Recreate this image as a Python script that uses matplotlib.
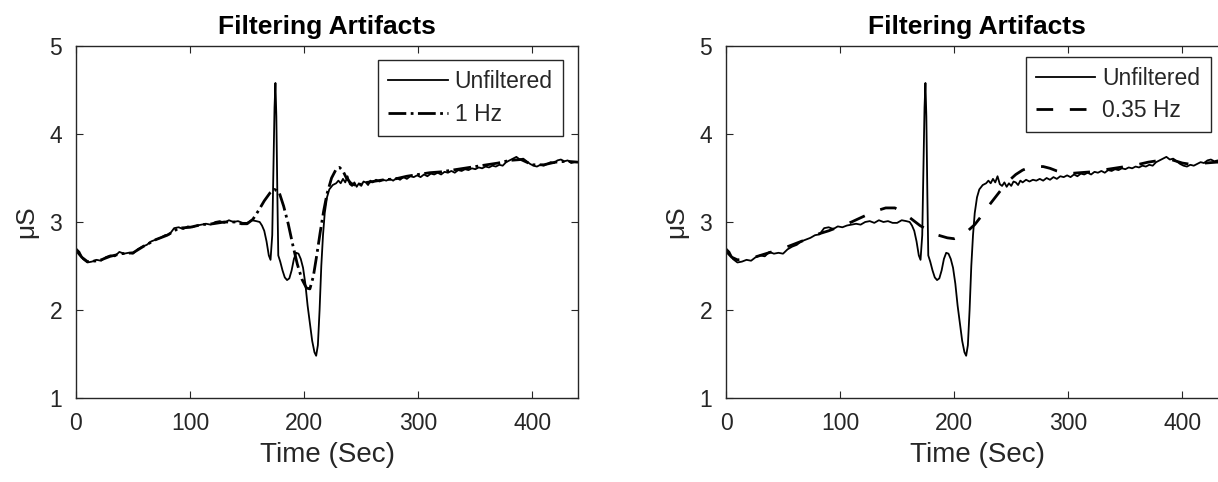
import matplotlib
matplotlib.use("Agg")
import matplotlib.pyplot as plt
import numpy as np

plt.rcParams['font.family'] = ['Liberation Sans', 'DejaVu Sans']

# raw skin conductance trace (same in both panels)
t_raw = [0, 3, 6, 10, 14, 18, 22, 26, 30, 34, 38, 42, 46, 50, 54, 58, 62, 66, 70, 74,
         78, 82, 86, 90, 94, 98, 102, 106, 110, 114, 118, 122, 126, 130, 134, 138, 142,
         146, 150, 154, 158, 161, 163, 165, 167, 169, 170.5, 172, 173, 174, 174.8, 175.6,
         176.5, 177.3, 179, 181, 183, 185, 187, 189, 191, 193, 195, 197, 199, 201, 203,
         205, 207, 209, 210.5, 212, 213.5, 215, 216.5, 218, 220, 222, 225, 228,
         230, 232, 234, 236, 238, 240, 242, 244, 246, 248, 250, 252, 254, 256, 258, 260,
         263, 266, 269, 272, 275, 278, 281, 284, 287, 290,
         293, 296, 299, 302, 305, 308, 311, 314, 317, 320,
         323, 326, 329, 332, 335, 338, 341, 344, 347, 350,
         353, 356, 359, 362, 365, 368, 371, 374, 377, 380,
         383, 386, 389, 392, 395, 398, 401, 404, 407, 410,
         413, 416, 419, 422, 425, 428, 431, 434, 437, 440]
y_raw = [2.70, 2.66, 2.58, 2.54, 2.55, 2.57, 2.56, 2.60, 2.62, 2.61, 2.66, 2.64, 2.65, 2.64,
         2.69, 2.72, 2.74, 2.78, 2.80, 2.82, 2.85, 2.86, 2.93, 2.94, 2.92, 2.95, 2.94, 2.96,
         2.97, 2.98, 2.97, 3.00, 3.01, 2.99, 3.02, 3.00, 3.01, 2.99, 2.99, 3.02, 3.01, 3.00,
         2.96, 2.90, 2.78, 2.62, 2.57, 2.85, 3.60, 4.30, 4.58, 4.20, 3.30, 2.62, 2.55, 2.45,
         2.37, 2.34, 2.36, 2.45, 2.58, 2.65, 2.64, 2.58, 2.48, 2.30, 2.05, 1.85, 1.65, 1.52,
         1.48, 1.60, 2.00, 2.50, 2.85, 3.10, 3.28, 3.37, 3.42, 3.44,
         3.47, 3.44, 3.49, 3.45, 3.52, 3.43, 3.41, 3.45, 3.40, 3.44, 3.41, 3.46, 3.45, 3.42,
         3.47, 3.45,
         3.48, 3.46, 3.48, 3.47, 3.49, 3.47, 3.50, 3.48, 3.51, 3.49,
         3.52, 3.51, 3.53, 3.51, 3.54, 3.52, 3.55, 3.54, 3.56, 3.54,
         3.57, 3.56, 3.58, 3.56, 3.59, 3.58, 3.60, 3.59, 3.61, 3.60,
         3.62, 3.61, 3.63, 3.62, 3.64, 3.63, 3.65, 3.64, 3.68, 3.70,
         3.72, 3.74, 3.71, 3.72, 3.69, 3.66, 3.64, 3.63, 3.65, 3.64,
         3.66, 3.68, 3.67, 3.70, 3.71, 3.69, 3.70, 3.67, 3.68, 3.68]

# 1 Hz filtered
t_1hz = [0, 5, 10, 20, 30, 40, 50, 60, 70, 80, 90, 100, 110, 120, 130, 140, 145, 150, 155,
         160, 165, 170, 174, 178, 182, 186, 190, 194, 198, 202, 205, 208, 211, 214, 217, 220,
         224, 228, 231, 234, 237, 241, 246, 250, 255, 260, 270, 280, 290, 300, 310, 320, 330,
         340, 350, 360, 370, 380, 390, 400, 410, 420, 430, 440]
y_1hz = [2.68, 2.60, 2.55, 2.56, 2.61, 2.64, 2.65, 2.73, 2.80, 2.85, 2.93, 2.94, 2.97, 2.98,
         3.00, 3.00, 2.98, 2.98, 3.03, 3.13, 3.24, 3.33, 3.37, 3.34, 3.18, 2.98, 2.74, 2.52,
         2.35, 2.25, 2.24, 2.38, 2.62, 2.88, 3.12, 3.32, 3.50, 3.60, 3.62, 3.58, 3.50, 3.44,
         3.41, 3.43, 3.45, 3.46, 3.48, 3.49, 3.52, 3.54, 3.56, 3.57, 3.59, 3.61, 3.63, 3.65,
         3.67, 3.70, 3.71, 3.65, 3.65, 3.68, 3.69, 3.68]

# 0.35 Hz filtered
t_035 = [0, 5, 10, 20, 30, 40, 50, 60, 70, 80, 90, 100, 110, 120, 130, 140, 148, 155, 162,
         170, 178, 186, 194, 200, 206, 212, 218, 224, 230, 236, 242, 248, 254, 260, 266, 272,
         278, 284, 290, 300, 310, 320, 330, 340, 350, 360, 370, 380, 390, 400, 410, 420, 430, 440]
y_035 = [2.67, 2.60, 2.57, 2.58, 2.62, 2.66, 2.70, 2.75, 2.80, 2.86, 2.90, 2.95, 3.00, 3.06,
         3.12, 3.16, 3.16, 3.11, 3.04, 2.96, 2.90, 2.85, 2.82, 2.81, 2.84, 2.90, 2.97, 3.07,
         3.18, 3.28, 3.38, 3.47, 3.54, 3.59, 3.62, 3.63, 3.63, 3.61, 3.58, 3.55, 3.56, 3.57,
         3.59, 3.61, 3.63, 3.65, 3.68, 3.70, 3.71, 3.67, 3.65, 3.67, 3.68, 3.68]

grey = '#262626'

fig = plt.figure(figsize=(12.18, 4.82), dpi=100)
ax1 = fig.add_axes([76/1218, 84/482, 502/1218, 352/482])
ax2 = fig.add_axes([726/1218, 84/482, 502/1218, 352/482])

ax1.plot(t_raw, y_raw, color='black', lw=1.3, label='Unfiltered')
ax1.plot(t_1hz, y_1hz, color='black', lw=2.0, ls='-.', label='1 Hz')
ax2.plot(t_raw, y_raw, color='black', lw=1.3, label='Unfiltered')
ax2.plot(t_035, y_035, color='black', lw=2.0, dashes=(6, 6), label='0.35 Hz')

for ax, anc in [(ax1, (0.970, 0.960)), (ax2, (0.9655, 0.970))]:
    ax.set_xlim(0, 440)
    ax.set_ylim(1, 5)
    ax.set_xticks([0, 100, 200, 300, 400])
    ax.set_yticks([1, 2, 3, 4, 5])
    ax.tick_params(direction='in', top=True, right=True, length=5, width=0.8,
                   colors=grey, labelsize=16.5, pad=10)
    for s in ax.spines.values():
        s.set_color(grey)
        s.set_linewidth(1.0)
    ax.set_title('Filtering Artifacts', fontsize=19, fontweight='bold', pad=9)
    ax.set_xlabel('Time (Sec)', fontsize=20, color=grey, labelpad=5)
    ax.set_ylabel('μS', fontsize=19, color=grey, labelpad=8)
    leg = ax.legend(loc='upper right', bbox_to_anchor=anc, fontsize=16.5, fancybox=False,
                    framealpha=1, edgecolor=grey, handlelength=2.6, borderpad=0.45,
                    labelspacing=0.4, handletextpad=0.3, borderaxespad=0)
    leg.get_frame().set_linewidth(1.0)
    for txt in leg.get_texts():
        txt.set_color(grey)

fig.savefig('out.png', dpi=100)
